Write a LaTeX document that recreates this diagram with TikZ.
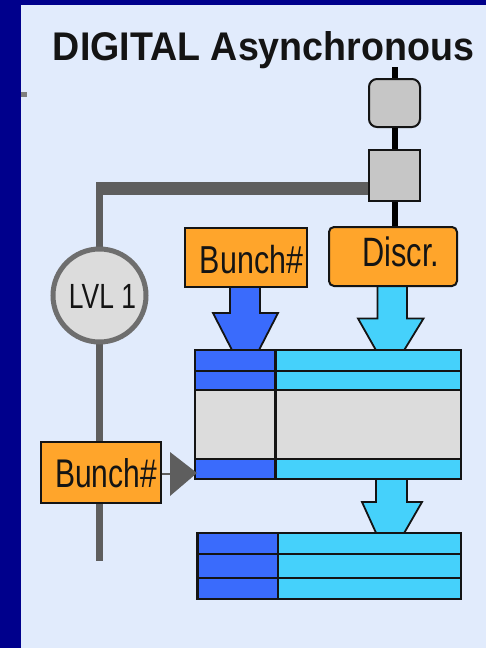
\documentclass[tikz,border=0pt]{standalone}
\usepackage{fontspec}
\setmainfont{Liberation Sans}
\usepackage{graphicx}
\definecolor{navy}{HTML}{00008C}
\definecolor{panel}{HTML}{E1EBFC}
\definecolor{dblue}{HTML}{3A6BFC}
\definecolor{cyanb}{HTML}{45D1FB}
\definecolor{orng}{HTML}{FFA52B}
\definecolor{cellgray}{HTML}{DCDCDC}
\definecolor{boxgray}{HTML}{C6C6C6}
\definecolor{wire}{HTML}{5E5E5E}
\definecolor{ink}{HTML}{141414}
\tikzset{
  obox/.style={draw=ink, line width=2, fill=orng, inner sep=0},
  gbox/.style={draw=ink, line width=2, fill=boxgray, inner sep=0},
  lbl/.style={anchor=base, inner sep=0, text=ink},
  cell/.style={draw=ink, line width=2.5},
  barrow/.style={draw=ink, line width=1.8},
  blackwire/.style={draw=black, line width=6},
}
\begin{document}
\begin{tikzpicture}[x=1pt,y=-1pt]
\useasboundingbox (0,0) rectangle (486,648);
\fill[navy] (0,0) rectangle (486,648);
\fill[panel] (21,5) rectangle (486,648);
\fill[wire!80] (21,92) rectangle (27,97);

% title
\node[lbl, font=\fontsize{40}{40}\selectfont\bfseries] (title) at (263.5,60) {\scalebox{0.94}[1]{DIGITAL Asynchronous}};

% gray boxes
\node[gbox, rounded corners=8, minimum width=51, minimum height=48] (rbox) at (394.5,103) {};
\node[gbox, minimum width=51, minimum height=51] (sbox) at (394.5,175.5) {};
\coordinate (top) at (394.5,67);

% gray wires
\coordinate (hcorner) at (96,188.5);
\coordinate (vtop) at (99.5,182);
\coordinate (vbot) at (99.5,561);
\draw[wire, line width=13] (hcorner) -- (hcorner -| sbox.west);
\draw[wire, line width=7] (vtop) -- (vbot);

% orange boxes positions
\coordinate (bA) at (246,257);
\coordinate (dC) at (393,256.5);

% black wires
\draw[blackwire] (top) -- (rbox.north);
\draw[blackwire] (rbox.south) -- (sbox.north);
\draw[blackwire] (sbox.south) -- (sbox.south |- 0,228);

% block arrows
\filldraw[fill=dblue, barrow] (230,284) -- (230,313) -- (213,313) -- (233,352) -- (258,352) -- (278,313) -- (260,313) -- (260,284) -- cycle;
\filldraw[fill=cyanb, barrow] (377.5,284) -- (377.5,318.5) -- (358,318.5) -- (377,352) -- (403,352) -- (423.5,318.5) -- (407,318.5) -- (407,284) -- cycle;
\filldraw[fill=cyanb, barrow] (376,477) -- (376,502) -- (362,502) -- (377,535) -- (403,535) -- (422,502) -- (407,502) -- (407,477) -- cycle;

% orange boxes
\node[obox, minimum width=122, minimum height=59] (bunchA) at (bA) {};
\node[obox, rounded corners=5, minimum width=128, minimum height=59] (discr) at (dC) {};
\node[obox, minimum width=120, minimum height=61] (bunchB) at (101,472.5) {};

% LVL1 circle
\node[circle, draw=wire!90, line width=5, fill=cellgray, minimum size=93, inner sep=0] (lvl) at (99.5,295.5) {};

% upper block
\draw[cell, fill=dblue] (195,350) rectangle (275.5,371);
\draw[cell, fill=cyanb] (275.5,350) rectangle (461,371);
\draw[cell, fill=dblue] (195,371) rectangle (275.5,390);
\draw[cell, fill=cyanb] (275.5,371) rectangle (461,390);
\draw[cell, fill=cellgray] (195,390) rectangle (275.5,459);
\draw[cell, fill=cellgray] (275.5,390) rectangle (461,459);
\draw[cell, fill=dblue] (195,459) rectangle (275.5,479);
\draw[cell, fill=cyanb] (275.5,459) rectangle (461,479);
\node[inner sep=0, minimum width=266, minimum height=129] (ublock) at (328,414.5) {};

% lower block
\draw[cell, fill=dblue] (197.5,533) rectangle (278,554);
\draw[cell, fill=cyanb] (278,533) rectangle (461,554);
\draw[cell, fill=dblue] (197.5,554) rectangle (278,578);
\draw[cell, fill=cyanb] (278,554) rectangle (461,578);
\draw[cell, fill=dblue] (197.5,578) rectangle (278,599);
\draw[cell, fill=cyanb] (278,578) rectangle (461,599);

% trigger triangle
\coordinate (tri) at (170,474);
\draw[wire, line width=2] (bunchB.east |- tri) -- (tri);
\fill[wire] (170,452) -- (197,473) -- (170,496) -- cycle;

% labels
\node[lbl, font=\fontsize{39}{39}\selectfont] (bunchAt) at (251.5,273) {\scalebox{0.78}[1]{Bunch\#}};
\node[lbl, font=\fontsize{41}{41}\selectfont] (discrt) at (401,266.5) {\scalebox{0.75}[1]{Discr.}};
\node[lbl, font=\fontsize{35}{35}\selectfont] (lvlt) at (102.5,308) {\scalebox{0.755}[1]{LVL 1}};
\node[lbl, font=\fontsize{40}{40}\selectfont] (bunchBt) at (106,487) {\scalebox{0.75}[1]{Bunch\#}};
\end{tikzpicture}
\end{document}
